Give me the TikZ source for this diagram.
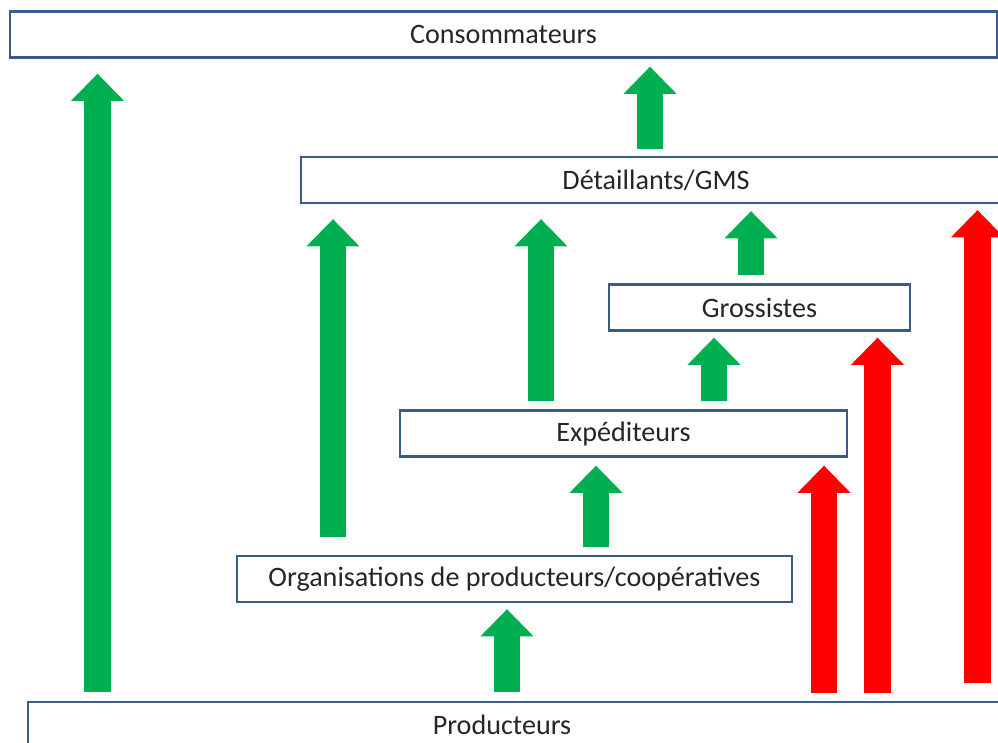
\documentclass[tikz,border=0pt]{standalone}
\usepackage{fontspec}
\setmainfont{Carlito}
\usepackage{tikz}
\usetikzlibrary{arrows.meta}
\definecolor{boxblue}{RGB}{56,93,138}
\definecolor{flowgreen}{RGB}{0,176,80}
\definecolor{flowred}{RGB}{255,0,0}
\tikzset{
  stagebox/.style={draw=boxblue,line width=1.7pt,fill=white,inner sep=0pt,
    minimum height=1.15cm,font=\fontsize{20}{24}\selectfont,text=black!85},
  flow/.style={line width=0.66cm,
    -{Triangle[length=0.68cm,width=1.33cm,line width=0pt]}},
  goflow/.style={flow,draw=flowgreen},
  redflow/.style={flow,draw=flowred}
}
\begin{document}
\begin{tikzpicture}[x=0.025cm,y=-0.025cm]
                    \useasboundingbox (0,0) rectangle (998,742);
                    \clip (0,0) rectangle (998,742);
                    % the stages
                    \node[stagebox,minimum width=24.675cm] (cons) at (503.5,34.5) {Consommateurs};
                    \node[stagebox,minimum width=17.75cm] (det) at (656,180) {D\'etaillants/GMS};
                    \node[stagebox,minimum width=7.525cm] (gros) at (759.5,307.5) {Grossistes};
                    \node[stagebox,minimum width=11.175cm] (exp) at (623.5,433.5) {Exp\'editeurs};
                    \node[stagebox,minimum width=13.875cm] (org) at (514.5,579) {Organisations de producteurs/coop\'eratives};
                    \node[stagebox,minimum width=24.55cm] (prod) at (519,725) {\hspace*{-0.85cm}Producteurs};
                    % columns of the arrows
                    \coordinate (c1) at (97.5,0);
                    \coordinate (c2) at (650,0);
                    \coordinate (c3) at (333,0);
                    \coordinate (c4) at (541,0);
                    \coordinate (c5) at (751,0);
                    \coordinate (c6) at (714,0);
                    \coordinate (c7) at (596,0);
                    \coordinate (c8) at (507,0);
                    \coordinate (r1) at (824,0);
                    \coordinate (r2) at (877.5,0);
                    \coordinate (r3) at (977.5,0);
                    % green flows
                    \draw[goflow,shorten <=0.225cm,shorten >=0.375cm] (prod.north -| c1) -- (cons.south -| c1);
                    \draw[goflow,shorten <=0.175cm,shorten >=0.2cm] (det.north -| c2) -- (cons.south -| c2);
                    \draw[goflow,shorten <=0.45cm,shorten >=0.375cm] (org.north -| c3) -- (det.south -| c3);
                    \draw[goflow,shorten <=0.2cm,shorten >=0.375cm] (exp.north -| c4) -- (det.south -| c4);
                    \draw[goflow,shorten <=0.2cm,shorten >=0.175cm] (gros.north -| c5) -- (det.south -| c5);
                    \draw[goflow,shorten <=0.2cm,shorten >=0.15cm] (exp.north -| c6) -- (gros.south -| c6);
                    \draw[goflow,shorten <=0.2cm,shorten >=0.2cm] (org.north -| c7) -- (exp.south -| c7);
                    \draw[goflow,shorten <=0.225cm,shorten >=0.15cm] (prod.north -| c8) -- (org.south -| c8);
                    % red flows
                    \draw[redflow,shorten <=0.2cm,shorten >=0.2cm] (prod.north -| r1) -- (exp.south -| r1);
                    \draw[redflow,shorten <=0.2cm,shorten >=0.15cm] (prod.north -| r2) -- (gros.south -| r2);
                    \draw[redflow,shorten <=0.45cm,shorten >=0.15cm] (prod.north -| r3) -- (det.south -| r3);
                \end{tikzpicture}
\end{document}
